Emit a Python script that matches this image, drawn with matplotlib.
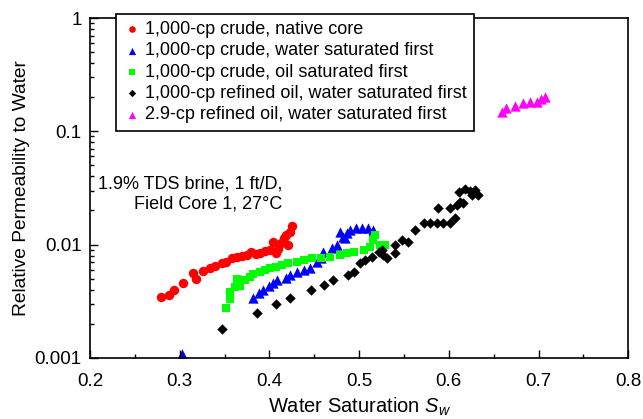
import matplotlib
matplotlib.use("Agg")
import matplotlib.pyplot as plt
from matplotlib.ticker import FixedLocator, FuncFormatter, LogLocator, NullFormatter

plt.rcParams["font.family"] = ["Liberation Sans", "DejaVu Sans"]
plt.rcParams["mathtext.fontset"] = "custom"
plt.rcParams["mathtext.rm"] = "Liberation Sans"
plt.rcParams["mathtext.it"] = "Liberation Sans:italic"

# 1,000-cp crude, native core
red_sw = [0.279, 0.288, 0.294, 0.304, 0.315, 0.318, 0.326, 0.334, 0.339, 0.347,
          0.352, 0.358, 0.364, 0.369, 0.375, 0.380, 0.385, 0.390, 0.395, 0.401,
          0.404, 0.407, 0.410, 0.413, 0.416, 0.419, 0.421, 0.423, 0.425]
red_kr = [0.00343, 0.00360, 0.00398, 0.00456, 0.00559, 0.00494, 0.00589, 0.00619,
          0.00648, 0.00685, 0.00708, 0.00759, 0.00783, 0.00794, 0.00811, 0.00867,
          0.00822, 0.00849, 0.00879, 0.00897, 0.0106, 0.00849, 0.0091, 0.0103,
          0.0114, 0.0122, 0.00993, 0.0130, 0.0146]

# 1,000-cp crude, water saturated first
blue_sw = [0.302, 0.382, 0.388, 0.393, 0.399, 0.404, 0.408, 0.419, 0.423, 0.431,
           0.438, 0.445, 0.453, 0.458, 0.460, 0.470, 0.475, 0.479, 0.482, 0.484,
           0.486, 0.490, 0.497, 0.503, 0.510, 0.516]
blue_kr = [0.00108, 0.00336, 0.00372, 0.00398, 0.00432, 0.00456, 0.00488, 0.00505,
           0.00540, 0.00577, 0.00597, 0.00618, 0.00708, 0.00759, 0.00867, 0.00929,
           0.00993, 0.0130, 0.0117, 0.0114, 0.0126, 0.0135, 0.0139, 0.0139, 0.0139,
           0.0135]

# 1,000-cp crude, oil saturated first
green_sw = [0.352, 0.356, 0.356, 0.362, 0.364, 0.367, 0.373, 0.378, 0.382, 0.390,
            0.395, 0.401, 0.407, 0.414, 0.421, 0.431, 0.438, 0.447, 0.458, 0.468,
            0.479, 0.486, 0.494, 0.505, 0.512, 0.516, 0.518, 0.523, 0.529]
green_kr = [0.00275, 0.00330, 0.00385, 0.00421, 0.00494, 0.00432, 0.00488, 0.00521,
            0.00551, 0.00577, 0.00597, 0.00618, 0.00639, 0.00662, 0.00684, 0.00708,
            0.00732, 0.00759, 0.00759, 0.00773, 0.00811, 0.00839, 0.00867, 0.00897,
            0.00959, 0.0110, 0.0122, 0.00993, 0.00993]

# 1,000-cp refined oil, water saturated first
black_sw = [0.347, 0.386, 0.407, 0.423, 0.446, 0.461, 0.471, 0.488, 0.494, 0.501,
            0.507, 0.514, 0.522, 0.527, 0.531, 0.525, 0.540, 0.540, 0.548, 0.555,
            0.562, 0.572, 0.579, 0.587, 0.594, 0.601, 0.607, 0.588, 0.601, 0.609,
            0.613, 0.616, 0.611, 0.618, 0.624, 0.629, 0.633, 0.626]
black_kr = [0.00179, 0.00251, 0.00298, 0.00336, 0.00398, 0.00441, 0.00483, 0.00540,
            0.00577, 0.00685, 0.00732, 0.00783, 0.00867, 0.00811, 0.00759, 0.00897,
            0.00993, 0.00839, 0.0110, 0.0106, 0.0135, 0.0154, 0.0154, 0.0154, 0.0154,
            0.0154, 0.0171, 0.0209, 0.0209, 0.0224, 0.0239, 0.0232, 0.0293, 0.0308,
            0.0299, 0.0304, 0.0274, 0.0274]

# 2.9-cp refined oil, water saturated first
pink_sw = [0.659, 0.664, 0.674, 0.683, 0.691, 0.698, 0.703, 0.707]
pink_kr = [0.147, 0.160, 0.167, 0.179, 0.183, 0.183, 0.192, 0.202]

x_ticks = [0.2, 0.3, 0.4, 0.5, 0.6, 0.7, 0.8]
y_ticks = [0.001, 0.01, 0.1, 1]

fig = plt.figure(figsize=(6.43, 4.19), dpi=100)
ax = fig.add_axes([0.140, 0.146, 0.837, 0.811])

ax.scatter(red_sw, red_kr, marker="o", s=46, color="#ff0000", linewidths=0,
           label="1,000-cp crude, native core")
ax.scatter(blue_sw, blue_kr, marker="^", s=55, color="#0000ff", linewidths=0,
           label="1,000-cp crude, water saturated first")
ax.scatter(green_sw, green_kr, marker="s", s=38, color="#00ff00", linewidths=0,
           label="1,000-cp crude, oil saturated first")
ax.scatter(black_sw, black_kr, marker="D", s=28, color="#000000", linewidths=0,
           label="1,000-cp refined oil, water saturated first")
ax.scatter(pink_sw, pink_kr, marker="^", s=55, color="#ff00ff", linewidths=0,
           label="2.9-cp refined oil, water saturated first")

ax.set_yscale("log")
ax.set_xlim(0.2, 0.8)
ax.set_ylim(0.001, 1)
ax.xaxis.set_major_locator(FixedLocator(x_ticks))
ax.xaxis.set_minor_locator(FixedLocator([0.25, 0.35, 0.45, 0.55, 0.65, 0.75]))
ax.yaxis.set_major_locator(FixedLocator(y_ticks))
ax.yaxis.set_minor_locator(LogLocator(base=10, subs=range(2, 10)))
ax.yaxis.set_minor_formatter(NullFormatter())
ax.xaxis.set_major_formatter(FuncFormatter(lambda v, p: f"{v:.1f}"))
ax.yaxis.set_major_formatter(FuncFormatter(lambda v, p: f"{v:g}"))
ax.tick_params(which="both", direction="in", labelsize=13.5, width=1)
ax.tick_params(which="major", length=6)
ax.tick_params(which="minor", length=3)
ax.tick_params(axis="x", pad=11)
ax.tick_params(axis="y", pad=6)
for sp in ax.spines.values():
    sp.set_linewidth(1.2)

ax.set_xlabel("Water Saturation $\\mathit{S_w}$", fontsize=14.5, labelpad=4)
ax.set_ylabel("Relative Permeability to Water", fontsize=13.8, labelpad=3)

ax.text(0.414, 0.028, "1.9% TDS brine, 1 ft/D,\nField Core 1, 27\u00b0C",
        ha="right", va="center", fontsize=13, linespacing=1.2)

leg = ax.legend(loc="upper left", bbox_to_anchor=(0.048, 1.012), borderaxespad=0,
                fancybox=False, edgecolor="black", framealpha=1, fontsize=13,
                handletextpad=0.2, handlelength=1.0, labelspacing=0.24,
                borderpad=0.4, markerscale=0.7, scatterpoints=1)
leg.get_frame().set_linewidth(1.2)

fig.savefig("out.png", dpi=100)
